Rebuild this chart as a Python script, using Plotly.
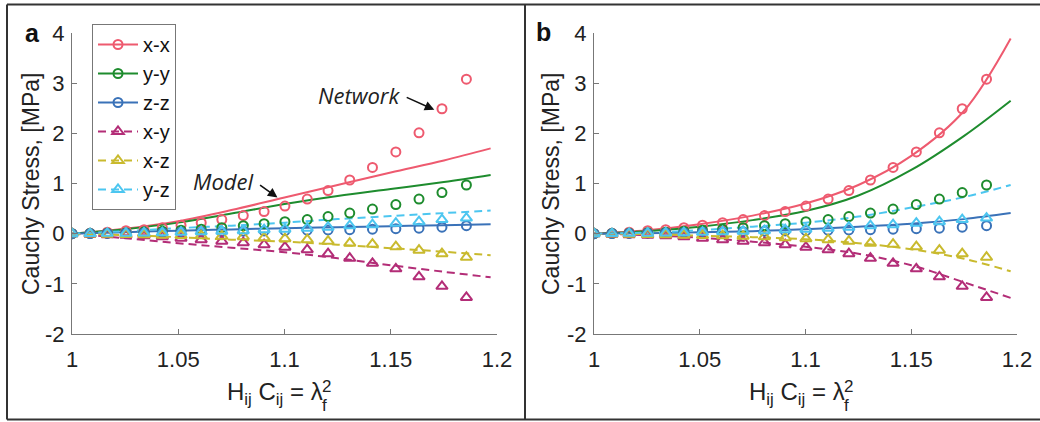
import plotly.graph_objects as go
from plotly.subplots import make_subplots

# ---------------- data ----------------
labels = ["x-x", "y-y", "z-z", "x-y", "x-z", "y-z"]
colors = ["#EE5A6F", "#1E8C2E", "#3A72B8", "#B32D77", "#C9BA2E", "#4CC6F0"]
dashes = ["solid", "solid", "solid", "8px,5px", "8px,5px", "8px,5px"]
symbols = ["circle-open"] * 3 + ["triangle-up-open"] * 3

# Network (discrete points) - same in both panels
net_x = [1.0, 1.0085, 1.0166, 1.0254, 1.0339, 1.0425, 1.0513, 1.0608, 1.0705, 1.0806,
         1.0904, 1.1002, 1.1107, 1.1205, 1.1307, 1.1414, 1.1524, 1.1633, 1.1741, 1.1856]
net_xx = [0, 0.01, 0.03, 0.06, 0.08, 0.12, 0.17, 0.22, 0.28, 0.36,
          0.44, 0.55, 0.69, 0.86, 1.07, 1.32, 1.63, 2.01, 2.49, 3.08]
net_yy = [0, 0.005, 0.01, 0.02, 0.03, 0.05, 0.07, 0.09, 0.12, 0.16,
          0.20, 0.24, 0.28, 0.34, 0.41, 0.49, 0.58, 0.69, 0.82, 0.97]
net_zz = [0, 0.002, 0.005, 0.01, 0.015, 0.02, 0.03, 0.035, 0.04, 0.05,
          0.055, 0.06, 0.07, 0.075, 0.08, 0.09, 0.10, 0.11, 0.13, 0.16]
net_xy = [0, -0.01, -0.02, -0.03, -0.04, -0.06, -0.09, -0.12, -0.15, -0.18,
          -0.22, -0.27, -0.32, -0.40, -0.49, -0.59, -0.70, -0.86, -1.05, -1.27]
net_xz = [0, -0.005, -0.01, -0.015, -0.02, -0.03, -0.035, -0.04, -0.05, -0.06,
          -0.08, -0.10, -0.12, -0.15, -0.19, -0.21, -0.26, -0.33, -0.40, -0.47]
net_yz = [0, 0.003, 0.006, 0.01, 0.015, 0.02, 0.03, 0.04, 0.05, 0.06,
          0.08, 0.09, 0.11, 0.13, 0.16, 0.18, 0.21, 0.24, 0.28, 0.31]
net_all = [net_xx, net_yy, net_zz, net_xy, net_xz, net_yz]

# Model curves
mod_x = [1.0, 1.025, 1.05, 1.075, 1.1, 1.125, 1.15, 1.175, 1.197]
# panel a
a_xx = [0, 0.10, 0.25, 0.47, 0.72, 0.97, 1.22, 1.46, 1.70]
a_yy = [0, 0.09, 0.22, 0.40, 0.59, 0.75, 0.89, 1.03, 1.17]
a_zz = [0, 0.03, 0.06, 0.085, 0.11, 0.13, 0.15, 0.17, 0.19]
a_xy = [0, -0.09, -0.19, -0.28, -0.37, -0.49, -0.63, -0.76, -0.87]
a_xz = [0, -0.03, -0.07, -0.12, -0.16, -0.22, -0.29, -0.36, -0.43]
a_yz = [0, 0.05, 0.11, 0.16, 0.22, 0.29, 0.35, 0.41, 0.46]
mod_a = [a_xx, a_yy, a_zz, a_xy, a_xz, a_yz]
# panel b
b_xx = [0, 0.07, 0.19, 0.36, 0.60, 0.97, 1.55, 2.45, 3.89]
b_yy = [0, 0.05, 0.14, 0.27, 0.45, 0.76, 1.27, 1.95, 2.65]
b_zz = [0, 0.01, 0.03, 0.05, 0.09, 0.14, 0.20, 0.29, 0.41]
b_xy = [0, -0.03, -0.08, -0.16, -0.26, -0.40, -0.63, -0.97, -1.28]
b_xz = [0, -0.01, -0.04, -0.07, -0.11, -0.19, -0.31, -0.50, -0.75]
b_yz = [0, 0.02, 0.07, 0.14, 0.22, 0.34, 0.52, 0.73, 0.97]
mod_b = [b_xx, b_yy, b_zz, b_xy, b_xz, b_yz]

x_ticks = [1, 1.05, 1.1, 1.15, 1.2]
x_ticktext = ["1", "1.05", "1.1", "1.15", "1.2"]
y_ticks = [-2, -1, 0, 1, 2, 3, 4]
y_ticktext = ["-2", "-1", "0", "1", "2", "3", "4"]
y_title = "Cauchy Stress, [MPa]"

# ---------------- figure ----------------
fig = make_subplots(rows=1, cols=2, horizontal_spacing=0.1026)
W, H = 1040, 422
L, R, T, B = 72, 23, 33, 88
pw, ph = W - L - R, H - T - B
FONT = "Liberation Sans, Arial"

for col, models in ((1, mod_a), (2, mod_b)):
    for i in range(6):
        fig.add_trace(go.Scatter(
            x=mod_x, y=models[i], mode="lines", line_shape="spline",
            line=dict(color=colors[i], width=2, dash=dashes[i]),
            showlegend=False, hoverinfo="skip"), row=1, col=col)
    for i in range(6):
        fig.add_trace(go.Scatter(
            x=net_x, y=net_all[i], mode="markers",
            marker=dict(symbol=symbols[i], size=9 if i < 3 else 10,
                        color=colors[i], line=dict(width=2, color=colors[i])),
            showlegend=False), row=1, col=col)

# legend-only entries
for i in range(6):
    fig.add_trace(go.Scatter(
        x=[None], y=[None], mode="lines+markers", name=labels[i],
        line=dict(color=colors[i], width=2, dash=dashes[i]),
        marker=dict(symbol=symbols[i], size=9 if i < 3 else 10,
                    color=colors[i], line=dict(width=2, color=colors[i]))),
        row=1, col=1)

tickfont = dict(family=FONT, size=22, color="#222")
axis_common = dict(showline=True, linecolor="#777", linewidth=1, ticks="inside",
                   ticklen=5, tickcolor="#777", showgrid=False, zeroline=False,
                   tickfont=tickfont, automargin=False)
fig.update_xaxes(range=[1, 1.2], tickvals=x_ticks, ticktext=x_ticktext,
                 ticklabelstandoff=6, **axis_common)
fig.update_yaxes(range=[-2, 4], tickvals=y_ticks, ticktext=y_ticktext,
                 ticklabelstandoff=2, **axis_common)
fig.update_layout(xaxis=dict(domain=[0, 425 / pw]),
                  xaxis2=dict(domain=[(594 - L) / pw, 1]))


def px2paper(px, py):
    return (px - L) / pw, (H - B - py) / ph


annotations = []
# y-axis titles
for cx in (31, 551):
    xp, yp = px2paper(cx, 184)
    annotations.append(dict(xref="paper", yref="paper", x=xp, y=yp, xanchor="center",
                            yanchor="middle", showarrow=False, textangle=-90, borderpad=0,
                            text=y_title, font=dict(family=FONT, size=23, color="#222")))

# x-axis titles (stacked sub/superscript)
for base in (L, 594):
    lx = base + 252
    xp, yp = px2paper(lx, 393)
    annotations.append(dict(xref="paper", yref="paper", x=xp, y=yp, xanchor="right",
                            yanchor="middle", showarrow=False, borderpad=0,
                            text="H<sub>ij</sub> C<sub>ij</sub> = λ",
                            font=dict(family=FONT, size=24, color="#222")))
    xp2, yp2 = px2paper(lx - 3, 386)
    annotations.append(dict(xref="paper", yref="paper", x=xp2, y=yp2, xanchor="left",
                            yanchor="middle", showarrow=False, text="2", borderpad=0,
                            font=dict(family=FONT, size=17, color="#222")))
    xp3, yp3 = px2paper(lx - 3, 405)
    annotations.append(dict(xref="paper", yref="paper", x=xp3, y=yp3, xanchor="left",
                            yanchor="middle", showarrow=False, text="f", borderpad=0,
                            font=dict(family=FONT, size=17, color="#222")))

# panel labels
for lbl, (px, py) in (("a", (32, 33)), ("b", (543, 32))):
    xp, yp = px2paper(px, py)
    annotations.append(dict(xref="paper", yref="paper", x=xp, y=yp, showarrow=False,
                            text="<b>%s</b>" % lbl, xanchor="center", yanchor="middle",
                            font=dict(family=FONT, size=25, color="#111")))

# text labels in panel a
annotations.append(dict(xref="x", yref="y", x=1.1555, y=2.76, xanchor="right", yanchor="middle",
                        showarrow=False, text="<i>Network</i>", borderpad=0,
                        font=dict(family="Open Sans", size=22, color="#222")))
annotations.append(dict(xref="x", yref="y", x=1.0855, y=1.04, xanchor="right", yanchor="middle",
                        showarrow=False, text="<i>Model</i>", borderpad=0,
                        font=dict(family="Open Sans", size=22, color="#222")))
# arrows
annotations.append(dict(xref="x", yref="y", axref="x", ayref="y", x=1.1705, y=2.47,
                        ax=1.1568, ay=2.73, text="", showarrow=True, arrowhead=2,
                        arrowsize=1.2, arrowwidth=1.6, arrowcolor="#111"))
annotations.append(dict(xref="x", yref="y", axref="x", ayref="y", x=1.0967, y=0.72,
                        ax=1.0878, ay=0.99, text="", showarrow=True, arrowhead=2,
                        arrowsize=1.2, arrowwidth=1.6, arrowcolor="#111"))

# outer frame lines (paper coords)
shapes = []
x0, _ = px2paper(7, 0)
x1, _ = px2paper(1041, 0)
xd, _ = px2paper(525, 0)
_, yt = px2paper(0, 4.5)
_, yb = px2paper(0, 419.5)
for (a, b_, c, d) in ((x0, yt, x1, yt), (x0, yb, x1, yb), (x0, yt, x0, yb), (xd, yt, xd, yb)):
    shapes.append(dict(type="line", xref="paper", yref="paper", x0=a, y0=b_, x1=c, y1=d,
                       line=dict(color="#333", width=2)))

lx, ly = px2paper(92, 24)
fig.update_layout(
    width=W, height=H, margin=dict(l=L, r=R, t=T, b=B),
    plot_bgcolor="white", paper_bgcolor="white",
    annotations=annotations, shapes=shapes,
    legend=dict(x=lx, y=ly, xref="paper", yref="paper", xanchor="left", yanchor="top",
                bgcolor="white", bordercolor="#777", borderwidth=1, itemwidth=40,
                font=dict(family=FONT, size=20, color="#111"),
                tracegroupgap=0, itemsizing="trace"),
)

fig.write_html("out.html", config={"displayModeBar": False},
               post_script="document.body.style.margin='0';document.body.style.padding='0';")
